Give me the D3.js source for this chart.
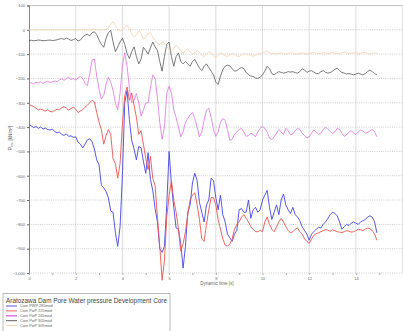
<!DOCTYPE html>
<html><head><meta charset="utf-8">
<script src="https://cdn.jsdelivr.net/npm/d3@7"></script>
<style>body{margin:0;background:#fff;}svg{display:block;font-family:"Liberation Sans",Arial,sans-serif;}</style>
</head><body>
<script>
const tStep = 0.1;
const xTicks = [0,2,4,6,8,10,12,14,16];
const xLabels = [0,2,4,6,8,10,12,14];
const yTicks = [100,0,-100,-200,-300,-400,-500,-600,-700,-800,-900,-1000];
const seriesNames = ["Core PWP 285mod","Core PwP 225mod","Core PwP 265mod","Core PwP 305mod","Core PwP 309mod"];
const seriesColors = ["#4545e6","#ec554e","#e06ae2","#505050","#f6cfa8"];

const blue = [-390,-395,-402,-398,-405,-400,-408,-404,-410,-412,
 -408,-418,-424,-420,-430,-434,-428,-438,-436,-442,
 -440,-462,-470,-486,-470,-452,-448,-460,-490,-535,
 -555,-640,-650,-665,-690,-745,-750,-835,-890,-810,
 -600,-300,-250,-370,-455,-490,-535,-480,-485,-540,
 -590,-505,-615,-660,-735,-790,-900,-915,-890,-720,
 -500,-635,-730,-815,-820,-880,-980,-890,-750,-720,
 -630,-590,-620,-710,-750,-790,-720,-700,-610,-620,
 -690,-740,-680,-760,-790,-840,-855,-870,-840,-825,
 -740,-735,-750,-750,-700,-775,-740,-730,-750,-740,
 -700,-680,-660,-730,-780,-750,-720,-760,-700,-675,
 -720,-740,-755,-730,-760,-770,-785,-810,-825,-840,
 -865,-840,-830,-820,-812,-815,-800,-790,-775,-760,
 -750,-755,-765,-790,-820,-810,-800,-805,-795,-790,
 -795,-800,-790,-785,-780,-770,-765,-770,-790,-835];

const red = [-308,-312,-316,-322,-329,-326,-330,-334,-328,-336,
 -337,-332,-326,-330,-320,-316,-322,-330,-324,-318,
 -326,-340,-334,-328,-318,-310,-300,-290,-296,-340,
 -380,-410,-470,-435,-410,-430,-530,-550,-610,-550,
 -390,-270,-235,-290,-260,-310,-360,-430,-415,-470,
 -530,-575,-520,-610,-640,-770,-890,-1030,-950,-770,
 -680,-620,-700,-750,-820,-910,-880,-830,-760,-700,
 -680,-670,-720,-780,-860,-870,-800,-740,-690,-690,
 -720,-780,-820,-860,-885,-890,-880,-860,-820,-800,
 -790,-770,-760,-775,-790,-810,-820,-830,-830,-825,
 -830,-790,-770,-800,-820,-830,-810,-790,-775,-790,
 -810,-825,-835,-830,-820,-815,-830,-840,-860,-870,
 -878,-860,-845,-838,-835,-830,-826,-822,-824,-828,
 -822,-826,-830,-832,-834,-830,-826,-828,-832,-830,
 -826,-820,-822,-826,-820,-815,-818,-825,-840,-865];

const magenta = [-220,-218,-222,-216,-218,-214,-220,-216,-212,-216,
 -214,-210,-214,-206,-202,-208,-200,-196,-204,-200,
 -206,-198,-192,-200,-220,-230,-180,-125,-120,-190,
 -245,-285,-270,-225,-195,-215,-250,-300,-330,-260,
 -150,-95,-150,-240,-300,-290,-262,-300,-355,-330,
 -300,-300,-240,-185,-200,-280,-380,-450,-400,-260,
 -232,-260,-330,-360,-400,-440,-420,-380,-365,-350,
 -340,-365,-400,-440,-420,-370,-330,-322,-360,-410,
 -438,-420,-380,-365,-372,-410,-455,-450,-430,-420,
 -410,-405,-420,-438,-435,-425,-430,-440,-420,-405,
 -398,-405,-420,-445,-452,-440,-425,-410,-420,-430,
 -405,-415,-432,-428,-415,-405,-410,-425,-435,-445,
 -440,-425,-412,-420,-430,-425,-410,-400,-408,-418,
 -425,-420,-405,-410,-425,-438,-432,-420,-415,-425,
 -430,-420,-412,-416,-425,-422,-415,-410,-420,-440];

const gray = [-44,-43,-45,-44,-42,-43,-45,-44,-43,-42,
 -44,-43,-41,-38,-35,-40,-34,-38,-44,-40,
 -36,-46,-42,-30,-22,-18,-25,-12,-8,-20,
 -42,-60,-72,-35,-12,-2,-50,-90,-70,-50,
 -35,-60,-98,-118,-90,-70,-110,-140,-120,-72,
 -85,-100,-75,-50,-70,-85,-130,-170,-110,-60,
 -50,-110,-150,-110,-95,-130,-140,-130,-140,-150,
 -130,-122,-140,-157,-168,-150,-140,-155,-170,-185,
 -215,-225,-190,-164,-150,-145,-148,-160,-170,-168,
 -160,-155,-160,-175,-185,-190,-192,-198,-200,-195,
 -185,-170,-150,-160,-180,-185,-178,-172,-175,-178,
 -176,-172,-174,-172,-176,-178,-172,-160,-165,-175,
 -170,-168,-174,-180,-180,-172,-168,-175,-178,-176,
 -170,-162,-158,-168,-175,-178,-182,-180,-182,-185,
 -182,-178,-182,-185,-180,-172,-165,-172,-180,-185];

const orange = [0,1,0,-1,0,1,0,0,-1,0,
 1,0,0,-1,0,1,0,0,1,0,
 -1,0,1,0,0,-1,0,1,2,0,
 -1,0,1,2,8,25,33,18,4,-6,
 2,12,18,6,-18,-30,-20,-5,-15,-38,
 -32,-15,-12,-30,-45,-55,-60,-48,-55,-70,
 -82,-90,-75,-62,-72,-88,-96,-85,-78,-90,
 -100,-95,-85,-92,-105,-110,-98,-90,-95,-108,
 -115,-105,-95,-98,-105,-110,-104,-98,-100,-108,
 -110,-104,-100,-98,-102,-106,-108,-104,-100,-98,
 -96,-92,-86,-94,-98,-96,-100,-98,-95,-98,
 -100,-97,-94,-96,-99,-101,-98,-95,-97,-100,
 -98,-95,-93,-96,-99,-97,-94,-96,-98,-95,
 -93,-96,-98,-97,-94,-92,-95,-97,-96,-94,
 -95,-97,-96,-93,-94,-96,-98,-97,-95,-96];

const seriesData = [blue, red, magenta, gray, orange];

const W = 403, H = 331;
const svg = d3.select("body").append("svg").attr("width", W).attr("height", H);
const x = d3.scaleLinear().domain([0,16]).range([29,402.6]);
const y = d3.scaleLinear().domain([100,-1000]).range([5.5,273]);

// grid
const g = svg.append("g");
g.selectAll(".vg").data(xTicks.filter(d=>d>0)).join("line")
 .attr("x1",d=>x(d)).attr("x2",d=>x(d)).attr("y1",y(100)).attr("y2",y(-1000))
 .attr("stroke","#d4d4d4").attr("stroke-width",0.8);
g.selectAll(".hg").data(yTicks.slice(1)).join("line")
 .attr("x1",x(0)).attr("x2",x(16)).attr("y1",d=>y(d)).attr("y2",d=>y(d))
 .attr("stroke","#b8b8b8").attr("stroke-width",0.7).attr("stroke-dasharray","1,1.2");
g.append("line").attr("x1",x(0)).attr("x2",x(16)).attr("y1",y(100)).attr("y2",y(100))
 .attr("stroke","#bdbdbd").attr("stroke-width",0.9);

// axes
const ya = svg.append("g").attr("transform",`translate(${x(0)},0)`)
 .call(d3.axisLeft(y).tickValues(yTicks).tickSize(2).tickPadding(2));
ya.select(".domain").attr("stroke","#666").attr("stroke-width",0.8);
ya.selectAll(".tick line").attr("stroke","#666");
ya.selectAll("text").attr("font-size",4).attr("fill","#666");

const xa = svg.append("g").attr("transform",`translate(0,${y(-1000)})`)
 .call(d3.axisBottom(x).tickValues(d3.range(0,16,1)).tickSize(2).tickPadding(2)
   .tickFormat(d=> xLabels.includes(d) ? d : ""));
xa.select(".domain").remove();
xa.selectAll(".tick line").attr("stroke","#aaa");
xa.selectAll("text").attr("font-size",4).attr("fill","#666");

svg.append("text").attr("x",217).attr("y",285).attr("text-anchor","middle")
 .attr("font-size",4.5).attr("fill","#666").text("Dynamic time [s]");
svg.append("text").attr("transform","translate(12,138) rotate(-90)").attr("text-anchor","middle")
 .attr("font-size",4.5).attr("fill","#666")
 .html('P<tspan font-size="3.3" dy="1">exc</tspan><tspan dy="-1"> [kN/m²]</tspan>');

// lines
const line = d3.line().x((d,i)=>x(i*tStep)).y(d=>y(d));
svg.append("g").selectAll("path").data(seriesData).join("path")
 .attr("d",d=>line(d)).attr("fill","none")
 .attr("stroke",(d,i)=>seriesColors[i])
 .attr("stroke-width",(d,i)=> i<2 ? 0.9 : 0.75)
 .attr("stroke-linejoin","round");

// legend
const lg = svg.append("g");
lg.append("rect").attr("x",3).attr("y",293.5).attr("width",167).attr("height",45)
 .attr("fill","#fff").attr("stroke","#aaa").attr("stroke-width",0.8);
lg.append("text").attr("x",6).attr("y",302.5).attr("font-size",7.2).attr("fill","#444")
 .attr("textLength",161).attr("lengthAdjust","spacingAndGlyphs")
 .text("Aratozawa Dam Pore Water pressure Development Core");
const items = lg.selectAll(".it").data(seriesNames).join("g")
 .attr("transform",(d,i)=>`translate(0,${306+i*4.9})`);
items.append("line").attr("x1",6).attr("x2",17).attr("y1",0).attr("y2",0)
 .attr("stroke",(d,i)=>seriesColors[i]).attr("stroke-width",(d,i)=> i===2 ? 1.4 : 0.9);
items.append("text").attr("x",20).attr("y",1.3).attr("font-size",3.8).attr("fill","#666").text(d=>d);
</script>
</body></html>
